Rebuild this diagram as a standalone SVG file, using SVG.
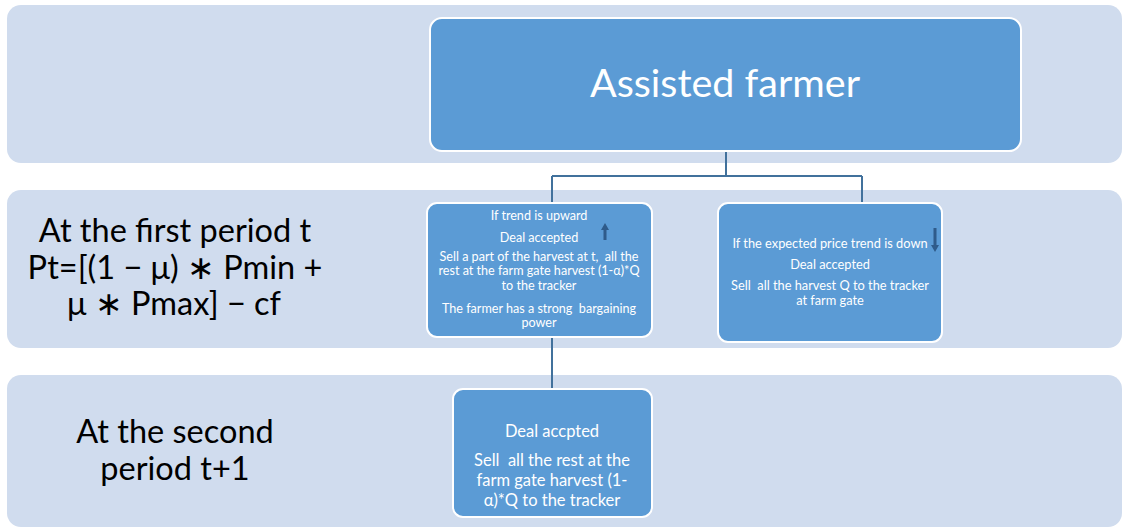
<svg xmlns="http://www.w3.org/2000/svg" width="1123" height="529" viewBox="0 0 1123 529">
<style>
.band{fill:#D0DCEE;}
.box{fill:#5B9BD5;stroke:#FFFFFF;stroke-width:2;}
.conn{fill:none;stroke:#41719C;stroke-width:2;}
.lbl{font-family:Lato,"Liberation Sans",sans-serif;fill:#000000;text-anchor:middle;}
.t{font-family:Lato,"Liberation Sans",sans-serif;fill:#FFFFFF;text-anchor:middle;white-space:pre;}
.arr{fill:#2F5B8A;}
</style>
<rect width="1123" height="529" fill="#FFFFFF"/>
<g id="bands">
<rect class="band" x="7" y="5" width="1115" height="158" rx="14"/>
<rect class="band" x="7" y="190" width="1115" height="158" rx="14"/>
<rect class="band" x="7" y="375" width="1115" height="152" rx="14"/>
</g>
<g id="label-first">
<text class="lbl" font-size="32.5"><tspan x="175" y="242">At the first period t</tspan><tspan x="175" y="279">Pt=[(1 − μ) ∗ Pmin +</tspan><tspan x="174" y="315">μ ∗ Pmax] − cf</tspan></text>
</g>
<g id="label-second">
<text class="lbl" font-size="32.5"><tspan x="175" y="443">At the second</tspan><tspan x="175" y="480">period t+1</tspan></text>
</g>
<g id="connectors">
<path class="conn" d="M726 150 V176 M552 176 H862 M552 176 V204 M862 176 V204 M552 337 V389"/>
</g>
<g id="assisted-farmer">
<rect class="box" x="430" y="18" width="591" height="133" rx="12"/>
<text class="t" x="725" y="97" font-size="39.5">Assisted farmer</text>
</g>
<g id="upward">
<rect class="box" x="427" y="203" width="225" height="134" rx="10"/>
<text class="t" font-size="12.6"><tspan x="539" y="220">If trend is upward</tspan><tspan x="539" y="242">Deal accepted</tspan><tspan x="539" y="261">Sell a part of the harvest at t,  all the</tspan><tspan x="539" y="275">rest at the farm gate harvest (1-α)*Q</tspan><tspan x="539" y="290">to the tracker</tspan><tspan x="539" y="313">The farmer has a strong  bargaining</tspan><tspan x="539" y="327">power</tspan></text>
<path class="arr" d="M605 223 L609 230 L606.5 230 L606.5 240 L603.5 240 L603.5 230 L601 230 Z"/>
</g>
<g id="downward">
<rect class="box" x="718" y="203" width="224" height="139" rx="10"/>
<text class="t" font-size="12.8"><tspan x="830" y="248">If the expected price trend is down</tspan><tspan x="830" y="269">Deal accepted</tspan><tspan x="830" y="290">Sell  all the harvest Q to the tracker</tspan><tspan x="830" y="305">at farm gate</tspan></text>
<path class="arr" d="M935 252 L939 245 L936.5 245 L936.5 228 L933.5 228 L933.5 245 L931 245 Z"/>
</g>
<g id="second">
<rect class="box" x="453" y="389" width="199" height="128" rx="10"/>
<text class="t" font-size="16.5"><tspan x="552" y="437">Deal accpted</tspan><tspan x="552" y="466">Sell  all the rest at the</tspan><tspan x="552" y="486">farm gate harvest (1-</tspan><tspan x="552" y="506">α)*Q to the tracker</tspan></text>
</g>
</svg>
